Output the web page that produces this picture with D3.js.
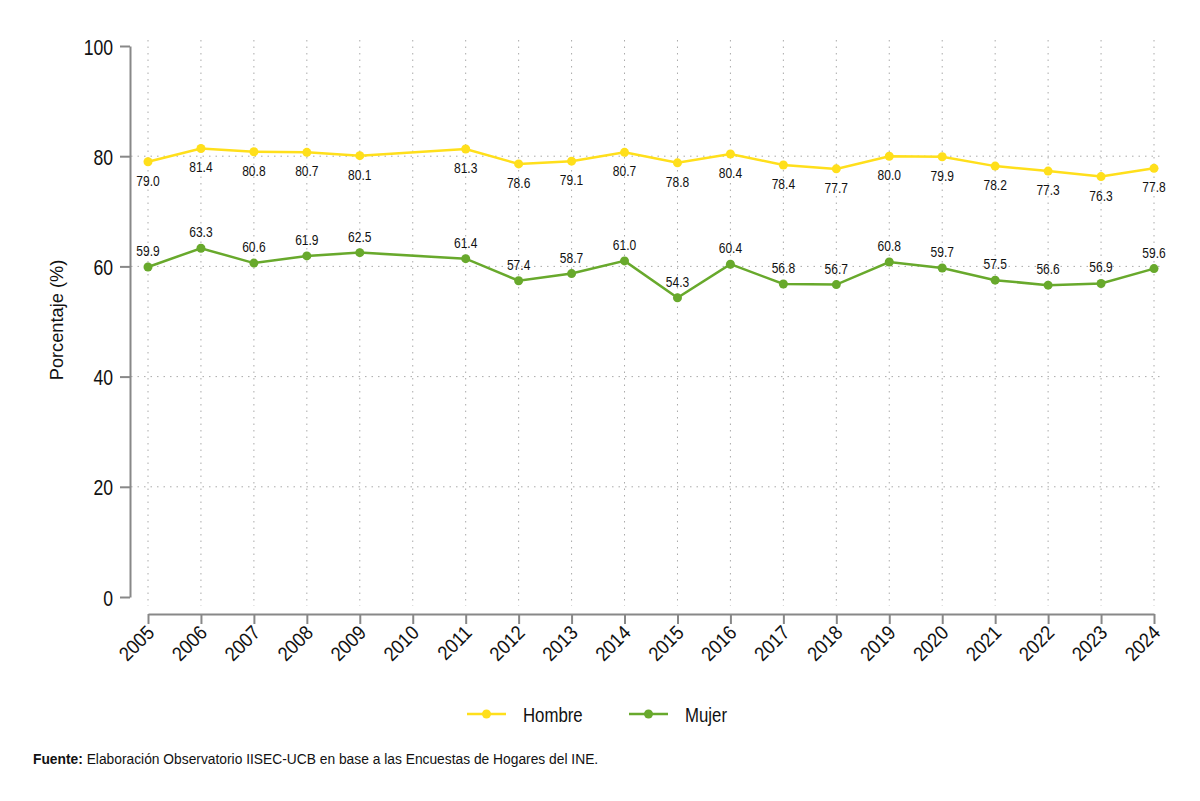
<!DOCTYPE html>
<html>
<head>
<meta charset="utf-8">
<script src="https://cdn.jsdelivr.net/npm/d3@7"></script>
<style>
  body { margin: 0; background: #fff; }
  text { font-family: "Liberation Sans", Arial, sans-serif; fill: #111; }
</style>
</head>
<body>
<div id="plot"></div>
<script>
let years = [2005, 2006, 2007, 2008, 2009, 2010, 2011, 2012, 2013, 2014, 2015, 2016, 2017, 2018, 2019, 2020, 2021, 2022, 2023, 2024];
let hombre = [79.0, 81.4, 80.8, 80.7, 80.1, null, 81.3, 78.6, 79.1, 80.7, 78.8, 80.4, 78.4, 77.7, 80.0, 79.9, 78.2, 77.3, 76.3, 77.8];
let mujer = [59.9, 63.3, 60.6, 61.9, 62.5, null, 61.4, 57.4, 58.7, 61.0, 54.3, 60.4, 56.8, 56.7, 60.8, 59.7, 57.5, 56.6, 56.9, 59.6];
let yTicks = [0, 20, 40, 60, 80, 100];
let gridTicks = [20, 40, 60, 80];
let seriesNames = ["Hombre", "Mujer"];
let colors = ["#ffdf1b", "#68a92c"];

let svgWidth = 1200;
let svgHeight = 801;
let narrow = 0.8; // fake Arial Narrow look

let x = d3.scalePoint()
  .domain(years)
  .range([148, 1154]);

let y = d3.scaleLinear()
  .domain([0, 100])
  .range([597, 46]);

let svg = d3.select('#plot')
  .append('svg')
  .attr('width', svgWidth)
  .attr('height', svgHeight);

// grid
svg.append('g')
  .selectAll('line')
  .data(years)
  .join('line')
  .attr('x1', d => x(d)).attr('x2', d => x(d))
  .attr('y1', 40).attr('y2', 606)
  .attr('stroke', '#aaa')
  .attr('stroke-width', 1)
  .attr('stroke-dasharray', '1.5,5');

svg.append('g')
  .selectAll('line')
  .data(gridTicks)
  .join('line')
  .attr('x1', 131).attr('x2', 1162)
  .attr('y1', d => y(d)).attr('y2', d => y(d))
  .attr('stroke', '#aaa')
  .attr('stroke-width', 1)
  .attr('stroke-dasharray', '1.5,5');

// y axis
let yAxis = svg.append('g')
  .attr('transform', 'translate(130,0)')
  .call(d3.axisLeft(y).tickValues(yTicks).tickSize(10).tickSizeOuter(0));
yAxis.select('.domain').attr('stroke', '#888').attr('stroke-width', 2);
yAxis.selectAll('.tick line').attr('stroke', '#888').attr('stroke-width', 2);
yAxis.selectAll('.tick text').remove();
yAxis.selectAll('.tick').append('text')
  .attr('transform', `translate(-17,8) scale(${narrow},1)`)
  .attr('text-anchor', 'end')
  .attr('font-size', 22)
  .attr('fill', '#111')
  .text(d => d);

// x axis
let xAxis = svg.append('g')
  .attr('transform', 'translate(0,614)')
  .call(d3.axisBottom(x).tickSize(10).tickSizeOuter(0));
xAxis.select('.domain').attr('stroke', '#888').attr('stroke-width', 2);
xAxis.selectAll('.tick line').attr('stroke', '#888').attr('stroke-width', 2);
xAxis.selectAll('.tick text').remove();
xAxis.selectAll('.tick').append('text')
  .attr('transform', `translate(7,20) rotate(-45) scale(0.9,1)`)
  .attr('text-anchor', 'end')
  .attr('font-size', 20)
  .attr('fill', '#111')
  .text(d => d);

// y title
svg.append('text')
  .attr('transform', 'translate(63,320) rotate(-90) scale(0.96,1)')
  .attr('text-anchor', 'middle')
  .attr('font-size', 19)
  .text('Porcentaje (%)');

let line = d3.line()
  .defined(d => d.v !== null)
  .x(d => x(d.year))
  .y(d => y(d.v));

let allSeries = [hombre, mujer];
allSeries.forEach(function(vals, i){
  let pts = years.map((yr, j) => ({ year: yr, v: vals[j] })).filter(d => d.v !== null);
  let g = svg.append('g');
  g.append('path')
    .datum(pts)
    .attr('d', line)
    .attr('fill', 'none')
    .attr('stroke', colors[i])
    .attr('stroke-width', 2.5);
  g.selectAll('circle')
    .data(pts)
    .join('circle')
    .attr('cx', d => x(d.year))
    .attr('cy', d => y(d.v))
    .attr('r', 4.5)
    .attr('fill', colors[i]);
  g.selectAll('text')
    .data(pts)
    .join('text')
    .attr('transform', d => `translate(${x(d.year)},${i === 0 ? y(d.v) + 24 : y(d.v) - 11}) scale(0.86,1)`)
    .attr('text-anchor', 'middle')
    .attr('font-size', 14)
    .attr('fill', '#222')
    .text(d => d.v.toFixed(1));
});

// legend
let legendX = [467, 629];
seriesNames.forEach(function(name, i){
  let lg = svg.append('g').attr('transform', `translate(${legendX[i]},714)`);
  lg.append('line').attr('x1', 0).attr('x2', 39).attr('y1', 0).attr('y2', 0)
    .attr('stroke', colors[i]).attr('stroke-width', 2.5);
  lg.append('circle').attr('cx', 19.5).attr('cy', 0).attr('r', 4.5).attr('fill', colors[i]);
  lg.append('text')
    .attr('transform', `translate(56,8) scale(${narrow},1)`)
    .attr('font-size', 21)
    .text(name);
});

// source
let src = svg.append('text')
  .attr('x', 33).attr('y', 764)
  .attr('font-size', 13.8);
src.append('tspan').attr('font-weight', 'bold').text('Fuente:');
src.append('tspan').text(' Elaboración Observatorio IISEC-UCB en base a las Encuestas de Hogares del INE.');
</script>
</body>
</html>
